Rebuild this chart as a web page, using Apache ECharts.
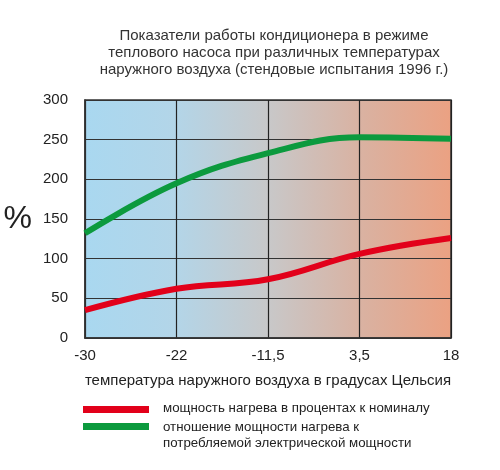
<!DOCTYPE html>
<html>
<head>
<meta charset="utf-8">
<script src="https://cdn.jsdelivr.net/npm/echarts@6/dist/echarts.min.js"></script>
<style>
  html, body { margin: 0; padding: 0; background: #fff; }
  #chart { width: 500px; height: 470px; }
</style>
</head>
<body>
<div id="chart"></div>
<script>
  // температура наружного воздуха
  const temps = ['-30', '-22', '-11,5', '3,5', '18'];
  // мощность нагрева в процентах к номиналу
  const heatPower = [35, 62, 74, 106, 126];
  // отношение мощности нагрева к потребляемой электрической мощности
  const cop = [132, 195, 233, 253, 251];
  const yTicks = [0, 50, 100, 150, 200, 250, 300];

  const FONT = 'Liberation Sans, Arial, sans-serif';

  const chart = echarts.init(document.getElementById('chart'));

  const option = {
    animation: false,
    backgroundColor: '#fff',
    title: {
      text: 'Показатели работы кондиционера в режиме\nтеплового насоса при различных температурах\nнаружного воздуха (стендовые испытания 1996 г.)',
      left: 269,
      top: 22,
      textAlign: 'center',
      textStyle: {
        fontFamily: FONT,
        fontSize: 15,
        fontWeight: 'normal',
        color: '#333',
        lineHeight: 17,
      },
    },
    grid: {
      left: 85,
      right: 49,
      top: 100,
      bottom: 132,
      show: true,
      borderColor: '#333',
      borderWidth: 1.5,
      backgroundColor: new echarts.graphic.LinearGradient(0, 0, 1, 0, [
        { offset: 0, color: '#a9d8f0' },
        { offset: 0.25, color: '#b3d5e8' },
        { offset: 0.5, color: '#c8c8c9' },
        { offset: 0.75, color: '#d9b2a2' },
        { offset: 1, color: '#eba182' },
      ]),
    },
    xAxis: {
      type: 'category',
      data: temps,
      boundaryGap: false,
      name: 'температура наружного воздуха в градусах Цельсия',
      nameLocation: 'middle',
      nameGap: 35,
      nameTextStyle: { fontFamily: FONT, fontSize: 15, color: '#222' },
      axisLine: { lineStyle: { color: '#333', width: 1.5 } },
      axisTick: { show: false },
      axisLabel: { fontFamily: FONT, fontSize: 15, color: '#222', margin: 10 },
      splitLine: { show: true, lineStyle: { color: '#222', width: 1.2 } },
    },
    yAxis: {
      type: 'value',
      min: yTicks[0],
      max: yTicks[yTicks.length - 1],
      interval: 50,
      name: '%',
      nameLocation: 'middle',
      nameGap: 53,
      nameRotate: 0,
      nameTextStyle: { fontFamily: FONT, fontSize: 32, color: '#222' },
      axisLine: { show: true, lineStyle: { color: '#333', width: 1.5 } },
      axisTick: { show: false },
      axisLabel: { fontFamily: FONT, fontSize: 15, color: '#222', margin: 17 },
      splitLine: { show: true, lineStyle: { color: '#333', width: 1.2 } },
    },
    series: [
      {
        name: 'мощность нагрева в процентах к номиналу',
        type: 'line',
        data: heatPower,
        smooth: 0.4,
        symbol: 'none',
        lineStyle: { color: '#e2001a', width: 6 },
        z: 3,
      },
      {
        name: 'отношение мощности нагрева к потребляемой электрической мощности',
        type: 'line',
        data: cop,
        smooth: 0.4,
        symbol: 'none',
        lineStyle: { color: '#0c9a3e', width: 6 },
        z: 3,
      },
    ],
    graphic: [
      { type: 'rect', left: 83, top: 406, shape: { width: 66, height: 7 }, style: { fill: '#e2001a' } },
      { type: 'rect', left: 83, top: 423, shape: { width: 66, height: 7 }, style: { fill: '#0c9a3e' } },
      {
        type: 'text', left: 163, top: 402,
        style: { text: 'мощность нагрева в процентах к номиналу', font: '13.3px ' + FONT, fill: '#222' },
      },
      {
        type: 'text', left: 163, top: 419,
        style: {
          text: 'отношение мощности нагрева к\nпотребляемой электрической мощности',
          font: '13.3px ' + FONT, fill: '#222', lineHeight: 16,
        },
      },
    ],
  };

  chart.setOption(option);
</script>
</body>
</html>
